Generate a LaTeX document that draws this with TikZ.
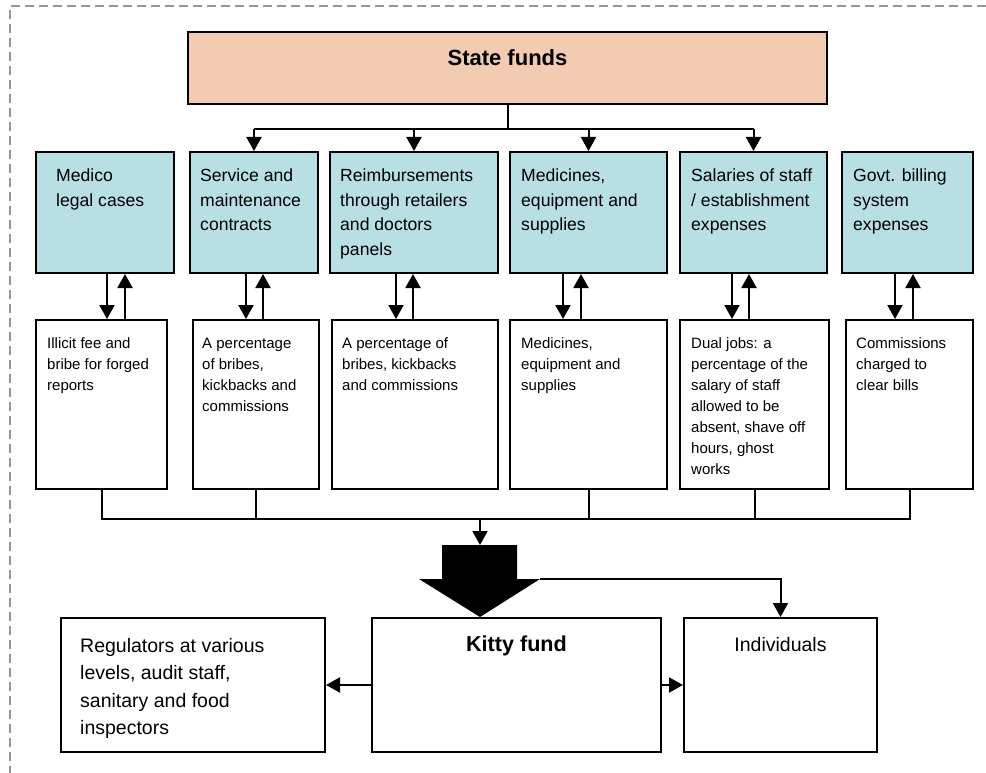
\documentclass[tikz,border=0pt]{standalone}
\usepackage{fontspec}
\setmainfont{Liberation Sans}
\usetikzlibrary{arrows.meta}
\definecolor{peach}{RGB}{243,203,178}
\definecolor{lblue}{RGB}{184,223,227}
\definecolor{dgray}{RGB}{150,150,150}
\newcommand\mytxt[1]{\parbox[t]{220pt}{\raggedright #1}}
\begin{document}
\begin{tikzpicture}[x=1pt,y=-1pt,
 box/.style={draw, line width=2pt, inner sep=0pt, anchor=north west},
 arr/.style={line width=2pt, -{Triangle[length=14pt,width=15pt]}},
 ln/.style={line width=2pt},
 btxt/.style={font=\fontsize{17.6pt}{24.5pt}\selectfont, anchor=base west, inner sep=0pt},
 wtxt/.style={font=\fontsize{15pt}{21pt}\selectfont, anchor=base west, inner sep=0pt},
 rtxt/.style={font=\fontsize{19.5pt}{27.5pt}\selectfont, anchor=base west, inner sep=0pt},
 ]
\useasboundingbox (0,0) rectangle (986,773);
\draw[dgray, line width=1.5pt, dash pattern=on 9pt off 5pt] (986,6) -- (10,6) -- (10,773);

% top box
\node[box, fill=peach, minimum width=639pt, minimum height=72pt] (sf) at (187,31) {};
\node[font=\fontsize{22pt}{26pt}\selectfont\bfseries, anchor=base, inner sep=0pt] (sft) at (sf.north |- 0,66) {State funds};

% blue boxes
\node[box, fill=lblue, minimum width=138pt, minimum height=121pt] (b1) at (35,151) {};
\node[box, fill=lblue, minimum width=128pt, minimum height=121pt] (b2) at (189,151) {};
\node[box, fill=lblue, minimum width=168pt, minimum height=121pt] (b3) at (329,151) {};
\node[box, fill=lblue, minimum width=157pt, minimum height=121pt] (b4) at (509,151) {};
\node[box, fill=lblue, minimum width=147pt, minimum height=121pt] (b5) at (679,151) {};
\node[box, fill=lblue, minimum width=131pt, minimum height=121pt] (b6) at (841,151) {};

\node[btxt] (b1t) at ([shift={(21,31)}]b1.north west) {\mytxt{Medico\\legal cases}};
\node[btxt] (b2t) at ([shift={(11,31)}]b2.north west) {\mytxt{Service and\\maintenance\\contracts}};
\node[btxt] (b3t) at ([shift={(11,31)}]b3.north west) {\mytxt{Reimbursements\\through retailers\\and doctors\\panels}};
\node[btxt] (b4t) at ([shift={(12,31)}]b4.north west) {\mytxt{Medicines,\\equipment and\\supplies}};
\node[btxt] (b5t) at ([shift={(12,31)}]b5.north west) {\mytxt{Salaries of staff\\/ establishment\\expenses}};
\node[btxt] (b6t) at ([shift={(12,31)}]b6.north west) {\mytxt{Govt. billing\\system\\expenses}};

% white boxes
\node[box, minimum width=131pt, minimum height=169pt] (w1) at (35,319) {};
\node[box, minimum width=126pt, minimum height=169pt] (w2) at (192,319) {};
\node[box, minimum width=166pt, minimum height=169pt] (w3) at (331,319) {};
\node[box, minimum width=157pt, minimum height=169pt] (w4) at (509,319) {};
\node[box, minimum width=149pt, minimum height=169pt] (w5) at (679,319) {};
\node[box, minimum width=127pt, minimum height=169pt] (w6) at (845,319) {};

\node[wtxt] (w1t) at ([shift={(12,29)}]w1.north west) {\mytxt{Illicit fee and\\bribe for forged\\reports}};
\node[wtxt] (w2t) at ([shift={(10,29)}]w2.north west) {\mytxt{A percentage\\of bribes,\\kickbacks and\\commissions}};
\node[wtxt] (w3t) at ([shift={(11,29)}]w3.north west) {\mytxt{A percentage of\\bribes, kickbacks\\and commissions}};
\node[wtxt] (w4t) at ([shift={(12,29)}]w4.north west) {\mytxt{Medicines,\\equipment and\\supplies}};
\node[wtxt] (w5t) at ([shift={(12,29)}]w5.north west) {\mytxt{Dual jobs: a\\percentage of the\\salary of staff\\allowed to be\\absent, shave off\\hours, ghost\\works}};
\node[wtxt] (w6t) at ([shift={(11,29)}]w6.north west) {\mytxt{Commissions\\charged to\\clear bills}};

% bottom boxes
\node[box, minimum width=264pt, minimum height=134pt] (reg) at (60,617) {};
\node[box, minimum width=289pt, minimum height=134pt] (kit) at (371,617) {};
\node[box, minimum width=193pt, minimum height=134pt] (ind) at (683,617) {};
\node[rtxt] (regt) at ([shift={(20,35)}]reg.north west) {\mytxt{Regulators at various\\levels, audit staff,\\sanitary and food\\inspectors}};
\node[font=\fontsize{21.6pt}{26pt}\selectfont\bfseries, anchor=base, inner sep=0pt] (kitt) at (kit.north |- 0,651) {Kitty fund};
\node[font=\fontsize{19.5pt}{26pt}\selectfont, anchor=base, inner sep=0pt] (indt) at (ind.north |- 0,651) {Individuals};

% state funds distribution
\draw[ln] (sf.south) -- ++(0,24) coordinate (sj);
\draw[ln] (sj -| b2.north) -- (sj -| b5.north);
\foreach \n in {b2,b3,b4,b5} \draw[arr] (sj -| \n.north) -- (\n.north);

% two-way arrows
\foreach \i/\d/\u in {1/107/125, 2/246/263, 3/396/413, 4/563/581, 5/732/749, 6/895/913} {
  \draw[arr] (\d,0 |- b\i.south) -- (\d,0 |- w\i.north);
  \draw[arr] (\u,0 |- w\i.north) -- (\u,0 |- b\i.south);
}

% collector
\draw[ln] (w1.south) -- ++(0,29) coordinate (cl) -| (w6.south);
\foreach \n in {w2,w4,w5} \draw[ln] (\n.south) -- (\n.south |- cl);
\coordinate (ba) at (480,545);
\draw[arr] (cl -| ba) -- (ba);

% big arrow
\fill (ba) ++(-38,0) -- ++(75,0) -- ++(0,34) -- ++(23,0) coordinate (bar)
  -- (ba |- kit.north) -- ++(-61,-38) -- ++(23,0) -- cycle;
\draw[arr] (bar) -| (ind.north);

% bottom arrows
\draw[arr] (kit.west) -- (reg.east);
\draw[arr] (kit.east) -- (ind.west);
\end{tikzpicture}
\end{document}
